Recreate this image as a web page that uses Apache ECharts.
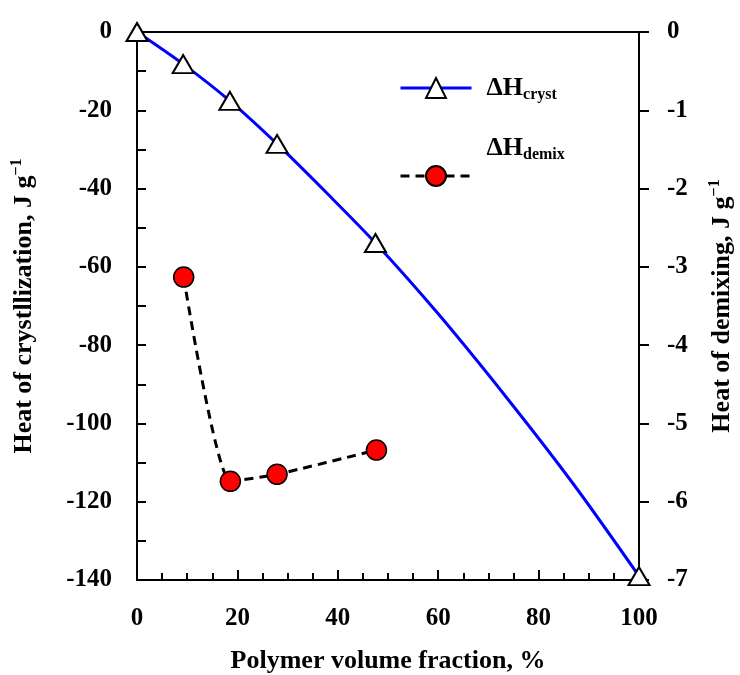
<!DOCTYPE html>
<html>
<head>
<meta charset="utf-8">
<script src="https://cdn.jsdelivr.net/npm/echarts@6/dist/echarts.min.js"></script>
<style>html,body{margin:0;padding:0;background:#fff}#c{width:740px;height:675px}</style>
</head>
<body>
<div id="c"></div>
<script>
// measured heat of crystallization (left axis)
var crystX = [0, 9.2, 18.5, 27.9, 47.5, 100];
var crystY = [0, -8.2, -17.6, -28.6, -53.9, -139];
// fitted curve through crystallization data
var curveX = [38, 60, 74, 87];
var curveY = [-41.4, -72, -94, -115.6];
// heat of demixing (right axis)
var demixX = [9.3, 18.6, 27.9, 47.7];
var demixY = [-3.13, -5.74, -5.65, -5.34];
var xTicks = [0, 20, 40, 60, 80, 100];
var leftTicks = [0, -20, -40, -60, -80, -100, -120, -140];
var rightTicks = [0, -1, -2, -3, -4, -5, -6, -7];

var FONT = 'Liberation Serif';

var crystData = [];
crystX.forEach(function (x, i) { crystData.push({ value: [x, crystY[i]] }); });
curveX.forEach(function (x, i) { crystData.push({ value: [x, curveY[i]], symbol: 'none' }); });
crystData.sort(function (a, b) { return a.value[0] - b.value[0]; });

var demixData = demixX.map(function (x, i) { return [x, demixY[i]]; });

function axisLine() { return { show: true, onZero: false, lineStyle: { color: '#000', width: 2 } }; }
var labelBase = { color: '#000', fontFamily: FONT, fontWeight: 'bold', fontSize: 25 };
var legendRich = {
  a: { fontFamily: FONT, fontWeight: 'bold', fontSize: 26, color: '#000', lineHeight: 30 },
  s: { fontFamily: FONT, fontWeight: 'bold', fontSize: 16, color: '#000', verticalAlign: 'bottom', lineHeight: 30, padding: [12, 0, 0, 0] }
};

var chart = echarts.init(document.getElementById('c'));
chart.setOption({
  animation: false,
  backgroundColor: '#fff',
  grid: { left: 137, right: 101, top: 32, bottom: 95, outerBoundsMode: 'none', containLabel: false, show: true, borderColor: '#000', borderWidth: 2 },
  legend: [
    {
      data: [{ name: 'cryst', lineStyle: { width: 3 } }],
      left: 399, top: 75, padding: 0, itemWidth: 71, itemHeight: 25,
      formatter: function () { return '{a|ΔH}{s|cryst}'; },
      textStyle: { padding: [0, 0, 0, 10], rich: legendRich }
    },
    {
      data: [{ name: 'demix', lineStyle: { width: 3 } }],
      left: 399, top: 135, padding: 0, itemWidth: 71, itemHeight: 25,
      formatter: function () { return '{a|ΔH}{s|demix}'; },
      textStyle: { padding: [0, 0, 56, 10], rich: legendRich }
    }
  ],
  xAxis: {
    type: 'value', min: 0, max: 100, interval: 20, position: 'bottom',
    axisLine: axisLine(),
    axisTick: { show: true, inside: true, length: 10, lineStyle: { color: '#000', width: 2 } },
    minorTick: { show: true, splitNumber: 4, length: 7, lineStyle: { color: '#000', width: 2 } },
    splitLine: { show: false },
    axisLabel: Object.assign({ margin: 26, formatter: function (v) { return xTicks.indexOf(v) >= 0 ? String(v) : ''; } }, labelBase),
    name: 'Polymer volume fraction, %',
    nameLocation: 'middle', nameGap: 68,
    nameTextStyle: { color: '#000', fontFamily: FONT, fontWeight: 'bold', fontSize: 26 }
  },
  yAxis: [
    {
      type: 'value', min: -140, max: 0, interval: 10, position: 'left',
      axisLine: axisLine(),
      axisTick: { show: true, inside: true, length: 9, lineStyle: { color: '#000', width: 2 } },
      splitLine: { show: false },
      axisLabel: Object.assign({ margin: 25, formatter: function (v) { return leftTicks.indexOf(v) >= 0 ? String(v) : ''; } }, labelBase),
      name: '{t|Heat of crystllization, J g}{s|−1}',
      nameLocation: 'middle', nameRotate: 90, nameGap: 98,
      nameTextStyle: { rich: {
        t: { color: '#000', fontFamily: FONT, fontWeight: 'bold', fontSize: 26, lineHeight: 30 },
        s: { color: '#000', fontFamily: FONT, fontWeight: 'bold', fontSize: 16, lineHeight: 30, verticalAlign: 'top', padding: [0, 0, 10, 0] }
      } }
    },
    {
      type: 'value', min: -7, max: 0, interval: 1, position: 'right',
      axisLine: axisLine(),
      axisTick: { show: true, inside: false, length: 10, lineStyle: { color: '#000', width: 2 } },
      splitLine: { show: false },
      axisLabel: Object.assign({ margin: 28, formatter: function (v) { return rightTicks.indexOf(v) >= 0 ? String(v) : ''; } }, labelBase),
      name: '{t|Heat of demixing, J g}{s|−1}',
      nameLocation: 'middle', nameRotate: 90, nameGap: 68,
      nameTextStyle: { rich: {
        t: { color: '#000', fontFamily: FONT, fontWeight: 'bold', fontSize: 26, lineHeight: 30 },
        s: { color: '#000', fontFamily: FONT, fontWeight: 'bold', fontSize: 16, lineHeight: 30, verticalAlign: 'top', padding: [0, 0, 10, 0] }
      } }
    }
  ],
  series: [
    {
      name: 'cryst', type: 'line', yAxisIndex: 0, data: crystData,
      smooth: 0.3, symbol: 'triangle', symbolSize: [21, 18],
      lineStyle: { color: '#0000ff', width: 3 },
      itemStyle: { color: '#fff', borderColor: '#000', borderWidth: 2 },
      z: 3
    },
    {
      name: 'demix', type: 'line', yAxisIndex: 1, data: demixData,
      smooth: 0.18, symbol: 'circle', symbolSize: 20,
      lineStyle: { color: '#000', width: 3, type: [9, 6] },
      itemStyle: { color: '#ff0000', borderColor: '#000', borderWidth: 1.5 },
      z: 3
    }
  ]
});
</script>
</body>
</html>
